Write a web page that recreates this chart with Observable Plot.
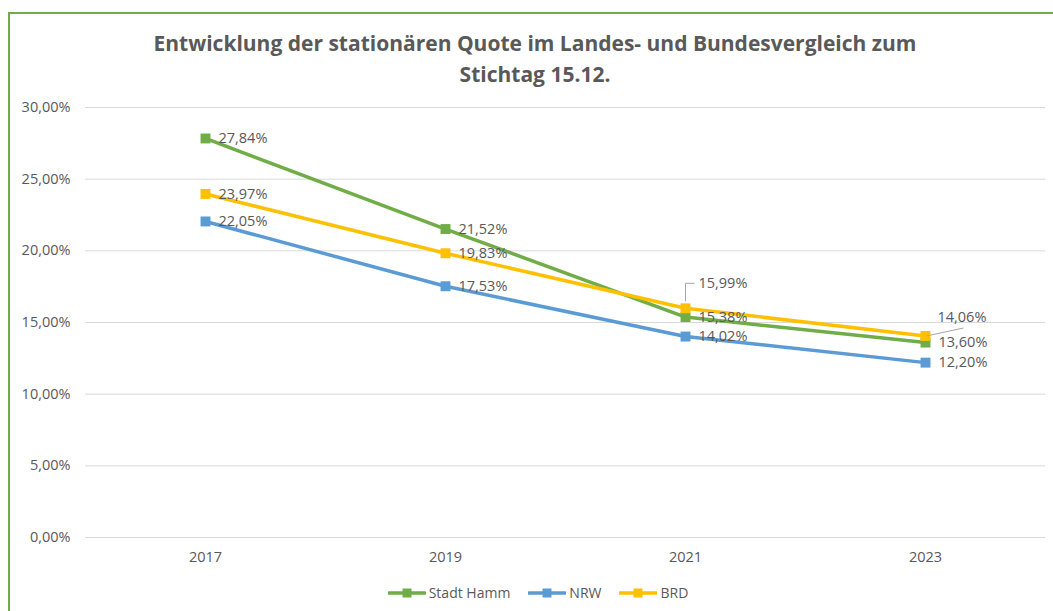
<!DOCTYPE html>
<html>
<head>
<meta charset="utf-8">
<script src="https://cdn.jsdelivr.net/npm/d3@7"></script>
<script src="https://cdn.jsdelivr.net/npm/@observablehq/plot@0.6"></script>
<style>
  body { margin:0; width:1053px; height:611px; overflow:hidden; position:relative; background:#fff; font-family:"Open Sans", sans-serif; }
  #frame { position:absolute; left:8px; top:12px; width:1100px; height:700px; border:2px solid #70ad47; box-sizing:border-box; }
  #title { position:absolute; left:0; top:28px; width:1070px; text-align:center; font-weight:bold; font-size:21px; line-height:31px; color:#595959; }
  #chart { position:absolute; left:0; top:90px; }
  #legend { position:absolute; left:0; top:583px; width:1076px; display:flex; justify-content:center; align-items:center; font-size:14px; color:#595959; }
  .item { display:flex; align-items:center; margin:0 9px; }
  .item svg { margin-right:3px; }
</style>
</head>
<body>
<div id="frame"></div>
<div id="title">Entwicklung der stationären Quote im Landes- und Bundesvergleich zum<br>Stichtag 15.12.</div>
<div id="chart"></div>
<div id="legend"></div>
<script>
const years = ["2017", "2019", "2021", "2023"];
const seriesNames = ["Stadt Hamm", "NRW", "BRD"];
const stadtHamm = [27.84, 21.52, 15.38, 13.60];
const nrw = [22.05, 17.53, 14.02, 12.20];
const brd = [23.97, 19.83, 15.99, 14.06];
const yTicks = [0, 5, 10, 15, 20, 25, 30];
const colors = {"Stadt Hamm": "#70ad47", "NRW": "#5b9bd5", "BRD": "#ffc000"};

const valuesBySeries = {"Stadt Hamm": stadtHamm, "NRW": nrw, "BRD": brd};
const data = seriesNames.flatMap(s => years.map((y, i) => ({series: s, year: y, value: valuesBySeries[s][i]})));

const fmt = v => v.toFixed(2).replace(".", ",") + "%";
const isSpecial = d => d.series === "BRD" && (d.year === "2021" || d.year === "2023");

// leader-line symbols drawn relative to the data point
const leaderUp = {draw(ctx) { ctx.moveTo(0, -7); ctx.lineTo(0, -25); ctx.lineTo(9, -25); }};
const leaderDiag = {draw(ctx) { ctx.moveTo(1, 0); ctx.lineTo(38, -8); }};

const chart = Plot.plot({
  width: 1053,
  height: 480,
  marginTop: 17,
  marginBottom: 33,
  marginLeft: 85,
  marginRight: 8,
  style: {fontFamily: "Open Sans", fontSize: "14.5px", color: "#595959", background: "transparent"},
  x: {type: "point", domain: years, padding: 0.5, label: null},
  y: {domain: [0, 30], label: null},
  marks: [
    Plot.ruleY(yTicks, {stroke: "#d9d9d9", strokeWidth: 1}),
    Plot.axisY({ticks: yTicks, tickSize: 0, tickPadding: 15, tickFormat: fmt, fontSize: 14.5}),
    Plot.axisX({tickSize: 0, tickPadding: 14, fontSize: 14.5}),
    ...seriesNames.map(s => Plot.line(data.filter(d => d.series === s), {
      x: "year", y: "value", stroke: colors[s], strokeWidth: 3.5, strokeLinejoin: "round", strokeLinecap: "round"
    })),
    ...seriesNames.map(s => Plot.dot(data.filter(d => d.series === s), {
      x: "year", y: "value", symbol: "square", r: 5.6, fill: colors[s], stroke: "none"
    })),
    Plot.dot(data.filter(d => d.series === "BRD" && d.year === "2021"), {
      x: "year", y: "value", symbol: leaderUp, fill: "none", stroke: "#a6a6a6", strokeWidth: 1, r: 1
    }),
    Plot.dot(data.filter(d => d.series === "BRD" && d.year === "2023"), {
      x: "year", y: "value", symbol: leaderDiag, fill: "none", stroke: "#a6a6a6", strokeWidth: 1, r: 1
    }),
    Plot.text(data.filter(d => !isSpecial(d)), {
      x: "year", y: "value", text: d => fmt(d.value), textAnchor: "start", dx: 13, fill: "#595959", fontSize: 14.5
    }),
    Plot.text(data.filter(d => d.series === "BRD" && d.year === "2021"), {
      x: "year", y: "value", text: d => fmt(d.value), textAnchor: "start", dx: 13, dy: -25, fill: "#595959", fontSize: 14.5
    }),
    Plot.text(data.filter(d => d.series === "BRD" && d.year === "2023"), {
      x: "year", y: "value", text: d => fmt(d.value), textAnchor: "start", dx: 12, dy: -19, fill: "#595959", fontSize: 14.5
    })
  ]
});
document.getElementById("chart").appendChild(chart);

const legend = document.getElementById("legend");
seriesNames.forEach(s => {
  const item = document.createElement("div");
  item.className = "item";
  item.innerHTML = `<svg width="38" height="12"><line x1="1" y1="6" x2="37" y2="6" stroke="${colors[s]}" stroke-width="3.5" stroke-linecap="round"/><rect x="14.5" y="1.5" width="9" height="9" fill="${colors[s]}"/></svg><span>${s}</span>`;
  legend.appendChild(item);
});
</script>
</body>
</html>
